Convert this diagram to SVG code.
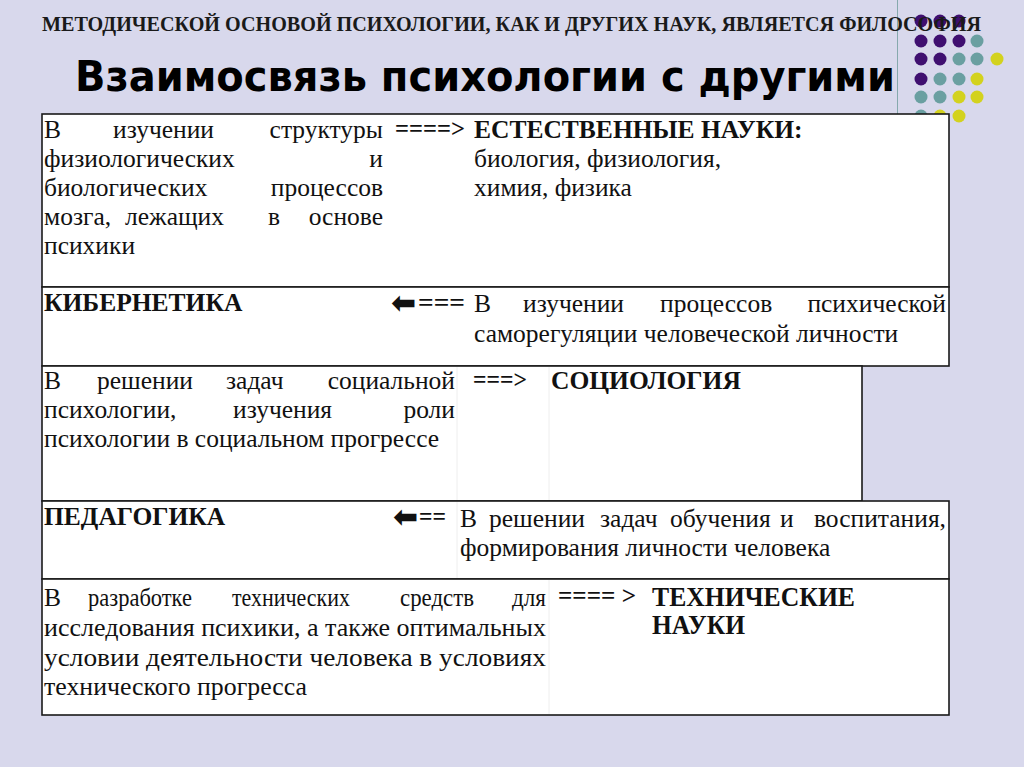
<svg xmlns="http://www.w3.org/2000/svg" width="1024" height="767" viewBox="0 0 1024 767">
<style>
.t{font-family:"Liberation Serif","Times New Roman",serif;font-size:25.5px;fill:#111}
.b{font-weight:bold}
.e{text-anchor:end}
.ar{font-family:"DejaVu Sans",sans-serif;font-weight:bold;font-size:30px;fill:#111}
.cell{fill:#fff;stroke:#1a1a1a;stroke-width:1.6}
.grid{stroke:#eeeeee;stroke-width:1}
.p{fill:#3f0f70}.g{fill:#6a9fa1}.y{fill:#d3d21e}
</style>
<rect width="1024" height="767" fill="#d8d8ec"/>
<line x1="897.5" y1="0" x2="897.5" y2="114" stroke="#86a9ad" stroke-width="1"/>
<g id="dots">
<circle class="p" cx="921" cy="21" r="6.5"/><circle class="p" cx="940" cy="21" r="6.5"/><circle class="p" cx="959" cy="21" r="6.5"/>
<circle class="p" cx="921" cy="41" r="6.5"/><circle class="p" cx="940" cy="41" r="6.5"/><circle class="p" cx="959" cy="41" r="6.5"/><circle class="g" cx="977" cy="41" r="6.5"/>
<circle class="p" cx="921" cy="59" r="6.5"/><circle class="p" cx="940" cy="59" r="6.5"/><circle class="g" cx="959" cy="59" r="6.5"/><circle class="g" cx="977" cy="59" r="6.5"/><circle class="y" cx="997" cy="59" r="6.5"/>
<circle class="p" cx="921" cy="79" r="6.5"/><circle class="g" cx="940" cy="79" r="6.5"/><circle class="g" cx="959" cy="79" r="6.5"/><circle class="y" cx="977" cy="79" r="6.5"/>
<circle class="g" cx="921" cy="97" r="6.5"/><circle class="g" cx="940" cy="97" r="6.5"/><circle class="y" cx="959" cy="97" r="6.5"/><circle class="y" cx="977" cy="97" r="6.5"/>
<circle class="g" cx="921" cy="116" r="6.5"/><circle class="y" cx="940" cy="116" r="6.5"/><circle class="y" cx="959" cy="116" r="6.5"/>
</g>
<g id="header">
<text x="42" y="31" font-family="Liberation Serif,serif" font-weight="bold" font-size="21" fill="#1a1a1a" textLength="939" lengthAdjust="spacingAndGlyphs">МЕТОДИЧЕСКОЙ ОСНОВОЙ ПСИХОЛОГИИ,  КАК И ДРУГИХ НАУК, ЯВЛЯЕТСЯ  ФИЛОСОФИЯ</text>
<text x="75" y="91" font-family="DejaVu Sans,sans-serif" font-weight="bold" font-size="43" fill="#000" textLength="820" lengthAdjust="spacingAndGlyphs">Взаимосвязь психологии с другими</text>
</g>
<g id="row1">
<rect class="cell" x="42" y="114" width="907" height="173"/>
<text class="t" x="44" y="138">В</text><text class="t" x="113" y="138">изучении</text><text class="t e" x="383" y="138">структуры</text>
<text class="t" x="44" y="167">физиологических</text><text class="t e" x="383" y="167">и</text>
<text class="t" x="44" y="196">биологических</text><text class="t e" x="383" y="196">процессов</text>
<text class="t" x="44" y="225">мозга,</text><text class="t" x="125" y="225">лежащих</text><text class="t" x="268" y="225">в</text><text class="t e" x="383" y="225">основе</text>
<text class="t" x="44" y="254">психики</text>
<text class="t b" x="395" y="137" textLength="70" lengthAdjust="spacingAndGlyphs">====&gt;</text>
<text class="t b" x="474" y="138">ЕСТЕСТВЕННЫЕ НАУКИ:</text>
<text class="t" x="474" y="167">биология, физиология,</text>
<text class="t" x="474" y="196">химия, физика</text>
</g>
<g id="row2">
<rect class="cell" x="42" y="287" width="907" height="79"/>
<text class="t b" x="44" y="311">КИБЕРНЕТИКА</text>
<text class="ar" x="391" y="313">⬅</text>
<text class="t b" x="418" y="311" textLength="47" lengthAdjust="spacingAndGlyphs">===</text>
<text class="t" x="474" y="312">В</text><text class="t" x="523" y="312">изучении</text><text class="t" x="660" y="312">процессов</text><text class="t e" x="946" y="312">психической</text>
<text class="t" x="474" y="342">саморегуляции человеческой личности</text>
</g>
<g id="row3">
<rect class="cell" x="42" y="366" width="820" height="135"/>
<line class="grid" x1="457" y1="367" x2="457" y2="500"/>
<line class="grid" x1="549" y1="367" x2="549" y2="500"/>
<text class="t" x="44" y="389">В</text><text class="t" x="97" y="389">решении</text><text class="t" x="226" y="389">задач</text><text class="t e" x="455" y="389">социальной</text>
<text class="t" x="44" y="418">психологии,</text><text class="t" x="233" y="418">изучения</text><text class="t e" x="455" y="418">роли</text>
<text class="t" x="44" y="447">психологии  в социальном прогрессе</text>
<text class="t b" x="473" y="388" textLength="54" lengthAdjust="spacingAndGlyphs">===&gt;</text>
<text class="t b" x="551" y="389">СОЦИОЛОГИЯ</text>
</g>
<g id="row4">
<rect class="cell" x="42" y="501" width="907" height="78"/>
<line class="grid" x1="457" y1="502" x2="457" y2="578"/>
<text class="t b" x="44" y="525">ПЕДАГОГИКА</text>
<text class="ar" x="393" y="527">⬅</text>
<text class="t b" x="419" y="525" textLength="27" lengthAdjust="spacingAndGlyphs">==</text>
<text class="t" x="460" y="527">В</text><text class="t" x="489" y="527">решении</text><text class="t" x="600" y="527">задач</text><text class="t" x="670" y="527">обучения</text><text class="t" x="780" y="527">и</text><text class="t e" x="946" y="527">воспитания,</text>
<text class="t" x="460" y="556">формирования  личности человека</text>
</g>
<g id="row5">
<rect class="cell" x="42" y="579" width="907" height="136"/>
<line class="grid" x1="549" y1="580" x2="549" y2="714"/>
<g style="font-size:27px">
<text class="t" x="44" y="606">В</text><text class="t" x="88" y="606" textLength="104" lengthAdjust="spacingAndGlyphs">разработке</text><text class="t" x="232" y="606" textLength="118" lengthAdjust="spacingAndGlyphs">технических</text><text class="t" x="400" y="606" textLength="74" lengthAdjust="spacingAndGlyphs">средств</text><text class="t" x="512" y="606" textLength="34" lengthAdjust="spacingAndGlyphs">для</text>
<text class="t" x="44" y="636" textLength="502" lengthAdjust="spacingAndGlyphs">исследования психики, а также оптимальных</text>
<text class="t" x="44" y="666" textLength="502" lengthAdjust="spacingAndGlyphs">условии  деятельности человека   в условиях</text>
<text class="t" x="44" y="695" textLength="263" lengthAdjust="spacingAndGlyphs">технического прогресса</text>
</g>
<text class="t b" x="558" y="604" textLength="78" lengthAdjust="spacingAndGlyphs">==== &gt;</text>
<text class="t b" x="652" y="606" style="font-size:28px" textLength="203" lengthAdjust="spacingAndGlyphs">ТЕХНИЧЕСКИЕ</text>
<text class="t b" x="652" y="634" style="font-size:28px" textLength="93" lengthAdjust="spacingAndGlyphs">НАУКИ</text>
</g>
</svg>
